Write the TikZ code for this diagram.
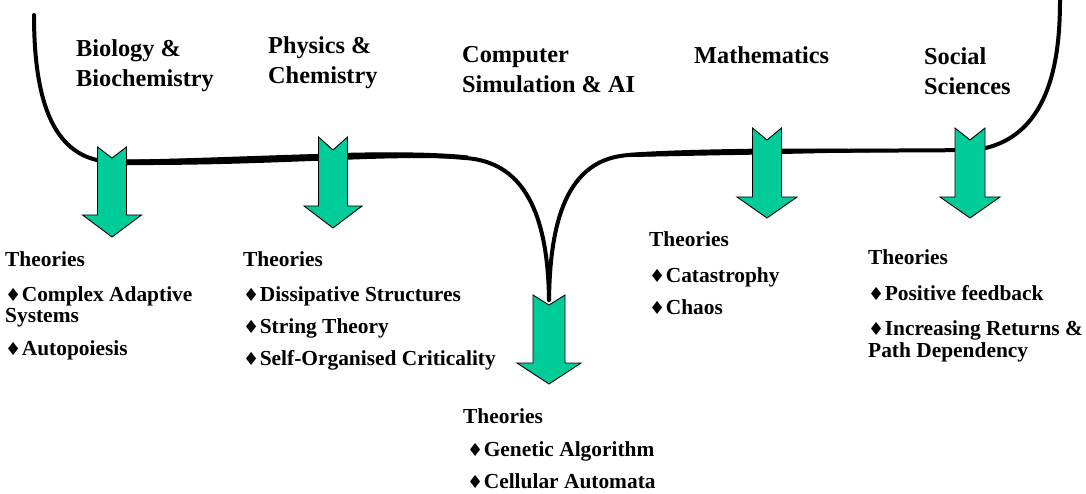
\documentclass[tikz,border=0pt]{standalone}
\usepackage{fontspec}
\setmainfont{Liberation Serif}
\newfontfamily\symf{DejaVu Sans}
\definecolor{arrowgreen}{HTML}{00CC99}
\newcommand\bul{{\symf\fontsize{18}{18}\selectfont\char"2666}\hspace{0.5pt}}
% name, cx, top, notch, headstart, tip, shaft half width, head half width
\newcommand\blockarrow[8]{%
  \draw[barrow] (#2-#7,#3) -- (#2,#4) -- (#2+#7,#3) -- (#2+#7,#5) -- (#2+#8,#5)
     -- (#2,#6) -- (#2-#8,#5) -- (#2-#7,#5) -- cycle;
  \coordinate (#1) at (#2,#4);}
\begin{document}
\begin{tikzpicture}[x=1pt,y=-1pt,
  head/.style={font=\fontsize{24.3}{29}\selectfont\bfseries, anchor=base west, inner sep=0pt},
  item/.style={font=\fontsize{21.4}{24}\selectfont\bfseries, anchor=base west, inner sep=0pt},
  barrow/.style={fill=arrowgreen, draw=black, line width=0.9pt, line join=miter},
  curve/.style={line width=4pt, line cap=round, draw=black}]
\useasboundingbox (0,0) rectangle (1086,494);
\fill[white] (0,0) rectangle (1086,494);

% the curved line
\coordinate (ltop) at (34,15);
\coordinate (lbend) at (112,162);
\coordinate (lmid) at (465,158);
\coordinate (bottom) at (549,300);
\coordinate (rmid) at (630,155);
\coordinate (rbend) at (975,150);
\coordinate (rtop) at (1060,0);
\draw[curve] (ltop) .. controls (34,115) and (60,160) .. (lbend)
  .. controls (250,160) and (380,150) .. (lmid)
  .. controls (530,162) and (548,225) .. (bottom);
\draw[curve] (bottom) .. controls (550,225) and (565,158) .. (rmid)
  .. controls (760,150) and (880,151) .. (rbend)
  .. controls (1050,140) and (1060,60) .. (rtop);
% thicker, brush-like stretches of the line
\fill (120,159.5) .. controls (220,159) and (290,155.5) .. (340,153)
  .. controls (400,151.5) and (440,152.5) .. (468,155.5)
  -- (468,159.5) .. controls (440,157.5) and (400,157.5) .. (340,160)
  .. controls (290,161.5) and (220,165.5) .. (120,165) -- cycle;
\fill (628,153) .. controls (660,150.5) and (700,149.5) .. (765,148.5)
  .. controls (850,148.5) and (920,149.5) .. (975,149)
  -- (975,151.2) .. controls (920,151.7) and (850,152) .. (765,154.5)
  .. controls (700,155.5) and (660,156.5) .. (628,157) -- cycle;

% block arrows
\blockarrow{abio}{112}{147}{158}{215}{237}{14.5}{29.5}
\blockarrow{aphys}{333}{137}{150}{206}{228}{14.5}{29}
\blockarrow{acomp}{549}{295}{305}{363}{384}{16}{32}
\blockarrow{amath}{767}{128}{140}{197}{218}{14.5}{30}
\blockarrow{asoc}{970}{128}{140}{197}{218}{15}{30}

% headings
\node[head] (h1a) at (76,57) {Biology \&};
\node[head] (h1b) at (76,87) {Biochemistry};
\node[head] (h2a) at (268,54) {Physics \&};
\node[head] (h2b) at (268,84) {Chemistry};
\node[head] (h3a) at (462,63) {Computer};
\node[head] (h3b) at (462,93) {Simulation \& AI};
\node[head] (h4a) at (694,64) {Mathematics};
\node[head] (h5a) at (924,65) {Social};
\node[head] (h5b) at (924,95) {Sciences};

% theories: biology
\node[item] (t1) at (5,266) {Theories};
\node[item] (t1a) at (5,301) {\bul Complex Adaptive};
\node[item] (t1b) at (5,322) {Systems};
\node[item] (t1c) at (5,355) {\bul Autopoiesis};
% physics
\node[item] (t2) at (243,266) {Theories};
\node[item] (t2a) at (243,301) {\bul Dissipative Structures};
\node[item] (t2b) at (243,333) {\bul String Theory};
\node[item] (t2c) at (243,365) {\bul Self-Organised Criticality};
% computer
\node[item] (t3) at (463,423) {Theories};
\node[item] (t3a) at (467,456) {\bul Genetic Algorithm};
\node[item] (t3b) at (467,488) {\bul Cellular Automata};
% mathematics
\node[item] (t4) at (649,247) {Theories};
\node[item] (t4a) at (649,282) {\bul Catastrophy};
\node[item] (t4b) at (649,314) {\bul Chaos};
% social
\node[item] (t5) at (868,265) {Theories};
\node[item] (t5a) at (868,300) {\bul Positive feedback};
\node[item] (t5b) at (868,335) {\bul Increasing Returns \&};
\node[item] (t5c) at (868,357) {Path Dependency};
\end{tikzpicture}
\end{document}
